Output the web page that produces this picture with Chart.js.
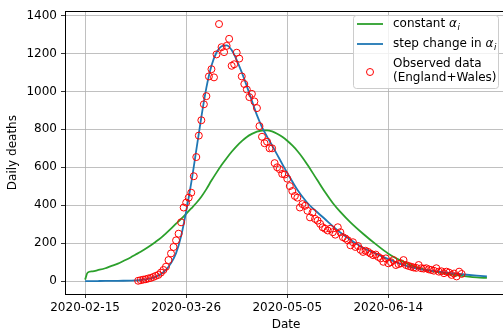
<!DOCTYPE html>
<html lang="en">

<head>
    <meta charset="UTF-8">
    <title>Daily deaths England+Wales</title>
    <script src="https://cdn.jsdelivr.net/npm/chart.js"></script>
    <style>
        body {
            margin: 0;
            background: #fff;
        }

        .chart-container {
            width: 503px;
            height: 333px;
            overflow: hidden; /* plot runs past the right edge, like the reference crop */
        }
    </style>
</head>

<body>
    <div class="chart-container">
        <canvas id="deathsChart" width="512" height="333"></canvas>
    </div>

    <script>
        // x axis = days since 2020-02-15
        const tickDays = [0, 40, 80, 120];
        const tickLabels = ['2020-02-15', '2020-03-26', '2020-05-05', '2020-06-14'];
        const yTicks = [0, 200, 400, 600, 800, 1000, 1200, 1400];

        // model curves
        const modelDays = [0, 1, 3, 5, 8, 10, 13, 15, 18, 20, 22, 25, 28, 30, 32, 34, 36, 38, 40, 42,
            44, 46, 48, 50, 52, 54, 56, 58, 60, 62, 64, 66, 68, 70, 72, 74, 76, 78, 80, 82,
            84, 86, 88, 90, 92, 95, 98, 101, 105, 110, 115, 120, 125, 130, 135, 140, 145, 150, 155, 159];
        const constantAlpha = [8, 45, 52, 58, 68, 78, 92, 105, 125, 140, 155, 180, 208, 228, 252, 277, 303, 328, 355, 383,
            412, 445, 485, 530, 572, 612, 648, 682, 712, 738, 760, 776, 788, 794, 795, 789, 777, 761, 740, 715,
            686, 652, 613, 572, 530, 468, 412, 365, 310, 250, 195, 145, 108, 78, 60, 46, 35, 27, 20, 17];
        const stepAlpha = [0, 0, 0, 0.5, 1, 1, 1.5, 2, 3, 4, 6, 12, 24, 38, 60, 95, 148, 238, 368, 518,
            690, 865, 1020, 1135, 1205, 1238, 1243, 1218, 1165, 1100, 1028, 950, 875, 812, 762, 715, 667, 618, 570, 525,
            482, 445, 412, 385, 362, 326, 290, 256, 218, 176, 145, 116, 90, 70, 58, 50, 42, 35, 29, 25];

        // observed daily deaths, one value per day starting 2020-03-07 (day 21)
        const obsFirstDay = 21;
        const observed = [2, 5, 8, 10, 14, 17, 22, 28, 33, 45, 59, 76, 111, 146, 180, 215, 250, 310, 388, 414,
            440, 466, 553, 654, 767, 848, 932, 975, 1079, 1117, 1074, 1195, 1355, 1233, 1207, 1240, 1277, 1135, 1143, 1204,
            1173, 1079, 1039, 1010, 970, 987, 947, 912, 817, 761, 727, 735, 700, 700, 622, 600, 590, 565, 562, 540,
            501, 475, 449, 440, 388, 406, 397, 371, 336, 362, 328, 319, 302, 284, 276, 267, 276, 258, 245, 284,
            258, 232, 225, 215, 189, 205, 180, 185, 165, 154, 160, 154, 145, 137, 140, 128, 120, 102, 120, 94,
            100, 111, 85, 90, 94, 111, 85, 80, 76, 72, 70, 85, 68, 66, 68, 62, 59, 55, 68, 50,
            52, 42, 50, 45, 33, 40, 25, 50, 38];

        const greenPts = modelDays.map((d, i) => ({ x: d, y: constantAlpha[i] }));
        const bluePts = modelDays.map((d, i) => ({ x: d, y: stepAlpha[i] }));
        const obsPts = observed.map((v, i) => ({ x: obsFirstDay + i, y: v }));

        const FONT = "'DejaVu Sans', sans-serif";

        // top spine
        const frame = {
            id: 'frame',
            afterDraw(chart) {
                const { ctx, chartArea } = chart;
                ctx.save();
                ctx.strokeStyle = '#000';
                ctx.lineWidth = 1;
                ctx.beginPath();
                const y = Math.round(chartArea.top) + 0.5;
                ctx.moveTo(chartArea.left, y);
                ctx.lineTo(chartArea.right, y);
                ctx.stroke();
                ctx.restore();
            }
        };

        // legend box in the upper right, matplotlib style
        function drawAlphaLabel(ctx, text, x, y) {
            ctx.font = '12px ' + FONT;
            ctx.fillText(text, x, y);
            let w = ctx.measureText(text).width;
            ctx.font = 'italic 12px ' + FONT;
            ctx.fillText('α', x + w, y);
            w += ctx.measureText('α').width;
            ctx.font = 'italic 8.5px ' + FONT;
            ctx.fillText('i', x + w + 0.5, y + 3.5);
        }

        const boxLegend = {
            id: 'boxLegend',
            afterDraw(chart) {
                const ctx = chart.ctx;
                ctx.save();
                ctx.beginPath();
                ctx.roundRect(353.5, 15.5, 145, 73, 3);
                ctx.fillStyle = 'rgba(255,255,255,0.8)';
                ctx.fill();
                ctx.strokeStyle = '#cccccc';
                ctx.lineWidth = 1;
                ctx.stroke();

                ctx.lineWidth = 1.8;
                ctx.strokeStyle = '#2ca02c';
                ctx.beginPath(); ctx.moveTo(357, 24); ctx.lineTo(383, 24); ctx.stroke();
                ctx.strokeStyle = '#1f77b4';
                ctx.beginPath(); ctx.moveTo(357, 44); ctx.lineTo(383, 44); ctx.stroke();
                ctx.strokeStyle = 'red';
                ctx.lineWidth = 1;
                ctx.beginPath(); ctx.arc(370, 72, 3.5, 0, Math.PI * 2); ctx.stroke();

                ctx.fillStyle = '#000';
                ctx.textBaseline = 'middle';
                ctx.textAlign = 'left';
                drawAlphaLabel(ctx, 'constant ', 393, 24);
                drawAlphaLabel(ctx, 'step change in ', 393, 44);
                ctx.font = '12px ' + FONT;
                ctx.fillText('Observed data', 393, 64);
                ctx.fillText('(England+Wales)', 393, 78);
                ctx.restore();
            }
        };

        const ctx = document.getElementById('deathsChart').getContext('2d');
        const chart = new Chart(ctx, {
            type: 'line',
            data: {
                datasets: [{
                    label: 'Observed data (England+Wales)',
                    type: 'scatter',
                    data: obsPts,
                    showLine: false,
                    pointRadius: 3.5,
                    pointBorderWidth: 1,
                    pointBorderColor: 'red',
                    pointBackgroundColor: 'rgba(0,0,0,0)',
                    order: 0
                }, {
                    label: 'step change',
                    data: bluePts,
                    borderColor: '#1f77b4',
                    borderWidth: 1.8,
                    pointRadius: 0,
                    cubicInterpolationMode: 'monotone',
                    order: 1
                }, {
                    label: 'constant',
                    data: greenPts,
                    borderColor: '#2ca02c',
                    borderWidth: 1.8,
                    pointRadius: 0,
                    cubicInterpolationMode: 'monotone',
                    order: 2
                }]
            },
            options: {
                responsive: false,
                animation: false,
                layout: {
                    padding: { top: 8, right: 3, left: 0, bottom: 0 }
                },
                plugins: {
                    legend: { display: false },
                    tooltip: { enabled: false }
                },
                scales: {
                    x: {
                        type: 'linear',
                        min: -7.95,
                        max: 166.95,
                        afterBuildTicks: (scale) => {
                            scale.ticks = tickDays.map(v => ({ value: v }));
                        },
                        afterFit: (scale) => { scale.height = 39; },
                        ticks: {
                            autoSkip: false,
                            maxRotation: 0,
                            padding: 3,
                            color: '#000',
                            font: { family: FONT, size: 12 },
                            callback: (value) => tickLabels[tickDays.indexOf(value)]
                        },
                        grid: {
                            color: '#b0b0b0',
                            lineWidth: 0.8,
                            tickColor: '#000',
                            tickLength: 4
                        },
                        border: { color: '#000', width: 1 },
                        title: {
                            display: true,
                            text: 'Date',
                            color: '#000',
                            font: { family: FONT, size: 12 },
                            padding: { top: 0, bottom: 1 }
                        }
                    },
                    y: {
                        min: -67.75,
                        max: 1422.75,
                        afterBuildTicks: (scale) => {
                            scale.ticks = yTicks.map(v => ({ value: v }));
                        },
                        afterFit: (scale) => { scale.width = 65; },
                        ticks: {
                            padding: 4,
                            color: '#000',
                            font: { family: FONT, size: 12 },
                            callback: (value) => String(value)
                        },
                        grid: {
                            color: '#b0b0b0',
                            lineWidth: 0.8,
                            tickColor: '#000',
                            tickLength: 4
                        },
                        border: { color: '#000', width: 1 },
                        title: {
                            display: true,
                            text: 'Daily deaths',
                            color: '#000',
                            font: { family: FONT, size: 12 },
                            padding: { top: 6, bottom: 0 }
                        }
                    }
                }
            },
            plugins: [frame, boxLegend]
        });
    </script>

</body>

</html>
